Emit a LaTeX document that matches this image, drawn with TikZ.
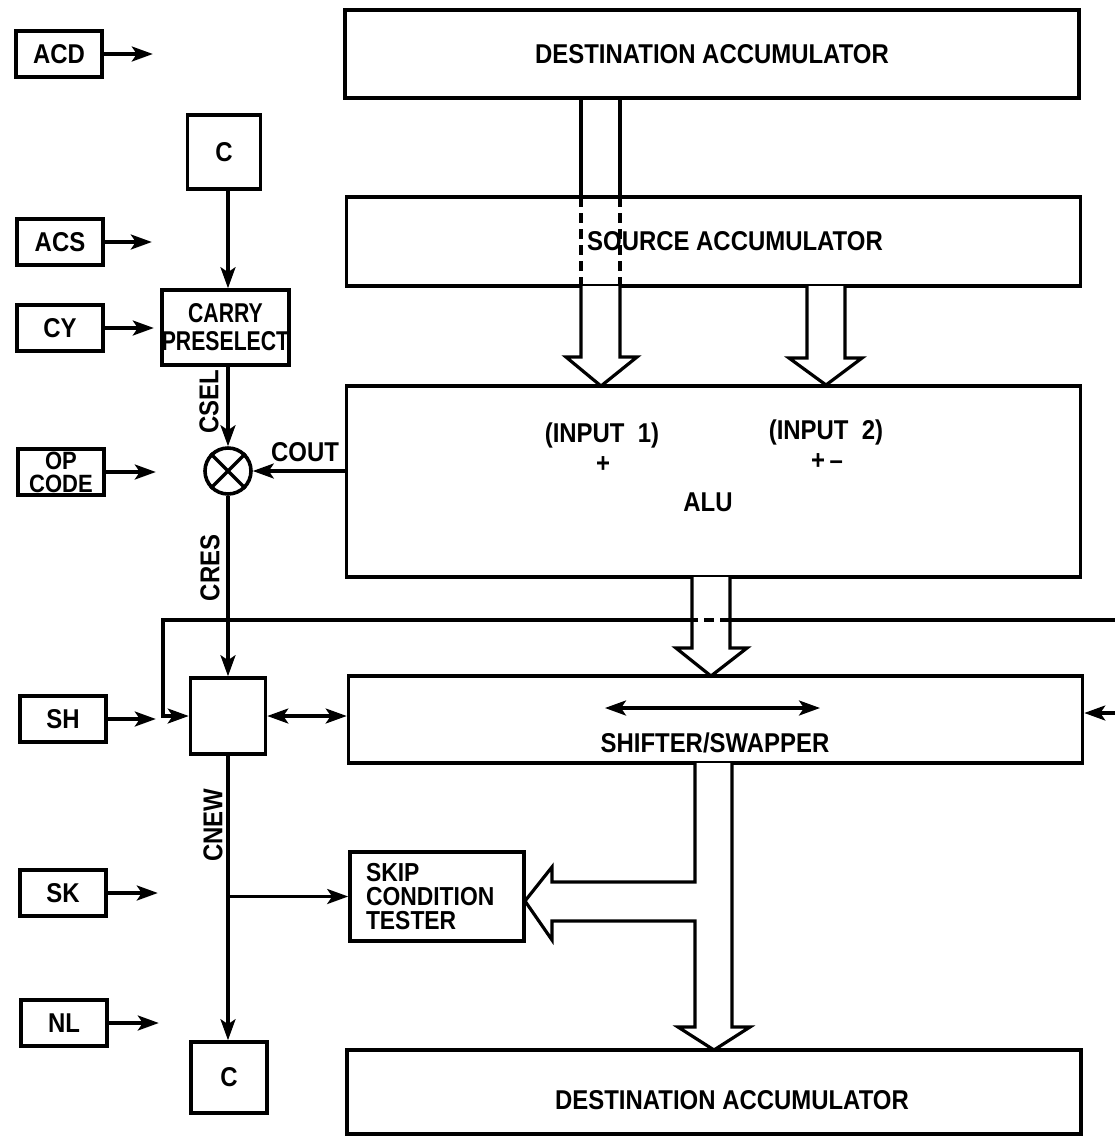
\documentclass[tikz,border=0pt]{standalone}
\usepackage{fontspec}
\setmainfont{Liberation Sans}[FakeStretch=0.88]
\newfontfamily\narrowfont{Liberation Sans}[FakeStretch=0.78]
\usetikzlibrary{arrows.meta}
\tikzset{
  blk/.style={draw, line width=1.8pt, inner sep=0pt, font=\bfseries\fontsize{13.6}{13.6}\selectfont},
  ctl/.style={blk, minimum width=43pt, minimum height=23pt},
  accbox/.style={blk, minimum width=367pt},
  lbl/.style={inner sep=0pt, font=\bfseries\fontsize{13.6}{13.6}\selectfont},
  sig/.style={line width=1.6pt, -{Stealth[length=10.5pt,width=7.5pt,inset=2.5pt]}},
  dbl/.style={line width=1.6pt, {Stealth[length=10.5pt,width=7.5pt,inset=2.5pt]}-{Stealth[length=10.5pt,width=7.5pt,inset=2.5pt]}},
  bus/.style={draw, line width=1.6pt, fill=white, line join=miter},
  wall/.style={line width=1.6pt},
  hidden/.style={line width=1.6pt, dash pattern=on 5pt off 3pt},
}
\begin{document}
\begin{tikzpicture}[x=0.5pt,y=-0.5pt]
\useasboundingbox (0,0) rectangle (1115,1137);

% control inputs
\node[ctl] (acd) at (59,54) {ACD};
\node[ctl] (acs) at (60,242) {ACS};
\node[ctl] (cy) at (60,328) {CY};
\node[ctl, align=center, font=\bfseries\fontsize{12.5}{11.5}\selectfont] (opc) at (61,472) {OP\\CODE};
\node[ctl] (sh) at (63,719) {SH};
\node[ctl] (sk) at (63,893) {SK};
\node[ctl] (nl) at (64,1023) {NL};
\draw[sig] (acd.east) -- ++(49,0);
\draw[sig] (acs.east) -- ++(47,0);
\draw[sig] (cy.east) -- ++(49,0);
\draw[sig] (opc.east) -- ++(50,0);
\draw[sig] (sh.east) -- ++(48,0);
\draw[sig] (sk.east) -- ++(50,0);
\draw[sig] (nl.east) -- ++(50,0);

% data path
\node[accbox, minimum height=44pt] (dtop) at (712,54) {DESTINATION ACCUMULATOR};
\node[accbox, minimum height=44.5pt] (src) at (713.5,241.5) {};
\node[lbl] (srct) at (735,241) {SOURCE ACCUMULATOR};
\node[accbox, minimum height=95.5pt] (alu) at (713.5,481.5) {};
\node[lbl] (in1) at (602,435) {(INPUT~~1)};
\node[lbl] (pl1) at (603,465) {+};
\node[lbl] (in2) at (826,432) {(INPUT~~2)};
\node[lbl] (pl2) at (827,462) {+\,–};
\node[lbl] (alut) at (708,502) {ALU};
\node[accbox, minimum height=43.5pt] (shf) at (715.5,719.5) {};
\node[lbl] (shft) at (715,743) {SHIFTER/SWAPPER};
\node[accbox, minimum height=42pt] (dbot) at (714,1092) {};
\node[lbl] (dbott) at (732,1100) {DESTINATION ACCUMULATOR};
\node[blk, minimum width=87pt, minimum height=44.5pt, inner xsep=8pt, text width=71pt, align=left,
  font=\bfseries\fontsize{13}{12.2}\selectfont] (skip) at (437,896.5) {SKIP\\CONDITION\\TESTER};

\draw[wall] (581,98) -- (581,197) (620,98) -- (620,197);
\draw[hidden] (581,197) -- (581,286) (620,197) -- (620,286);
\draw[bus] (581,286) -- (581,357) -- (566,357) -- (601,386) -- (637,357) -- (620,357) -- (620,286);
\draw[bus] (807,286) -- (807,358) -- (789,358) -- (826,385) -- (862,358) -- (845,358) -- (845,286);
\draw[bus] (692,577) -- (692,648) -- (676,648) -- (711,676) -- (747,648) -- (730,648) -- (730,577);
\draw[bus] (695,763) -- (695,882) -- (552,882) -- (552,867) -- (525,901) -- (552,940) -- (552,921)
  -- (695,921) -- (695,1027) -- (678,1027) -- (714,1050) -- (750,1027) -- (732,1027) -- (732,763);

% carry logic
\node[blk, minimum width=36.5pt, minimum height=37pt] (ctop) at (224,152) {C};
\node[blk, minimum width=62.5pt, minimum height=37.5pt, align=center,
  font=\narrowfont\bfseries\fontsize{13.6}{14}\selectfont] (cps) at (225.5,327.5) {CARRY\\PRESELECT};
\node[draw, circle, line width=1.8pt, minimum size=23pt, inner sep=0pt] (mix) at (228,471) {};
\draw[wall] (mix.north west) -- (mix.south east) (mix.north east) -- (mix.south west);
\node[blk, minimum width=37.5pt, minimum height=38pt] (csh) at (228,716) {};
\node[blk, minimum width=38pt, minimum height=35.5pt] (cbot) at (229,1077.5) {C};

\draw[sig] (mix.north |- ctop.south) -- (mix.north |- cps.north);
\draw[sig] (mix.north |- cps.south) -- (mix.north);
\node[lbl, rotate=90] (csel) at (209,402) {CSEL};
\draw[sig] (alu.west |- mix.east) -- (mix.east);
\node[lbl] (cout) at (305,452) {COUT};
\draw[sig] (mix.south) -- (csh.north);
\node[lbl, rotate=90] (cres) at (210,568) {CRES};
\draw[sig] (csh.south) -- (csh.south |- cbot.north);
\node[lbl, rotate=90] (cnew) at (213,825) {CNEW};
\coordinate (tap) at (csh.south |- skip.west);
\draw[sig] (tap) -- (skip.west);

% shift loop
\coordinate (fbr) at (1115,620);
\coordinate (fbl) at (163,620);
\draw[wall] (fbr) -- (730,620);
\draw[hidden] (730,620) -- (692,620);
\draw[sig] (692,620) -- (fbl) |- (csh.west);
\draw[dbl] (csh.east) -- (csh.east -| shf.west);
\coordinate (swl) at (605,708);
\coordinate (swr) at (820,708);
\draw[dbl] (swl) -- (swr);
\coordinate (shin) at (1115,713);
\draw[sig] (shin) -- (shin -| shf.east);
\end{tikzpicture}
\end{document}
